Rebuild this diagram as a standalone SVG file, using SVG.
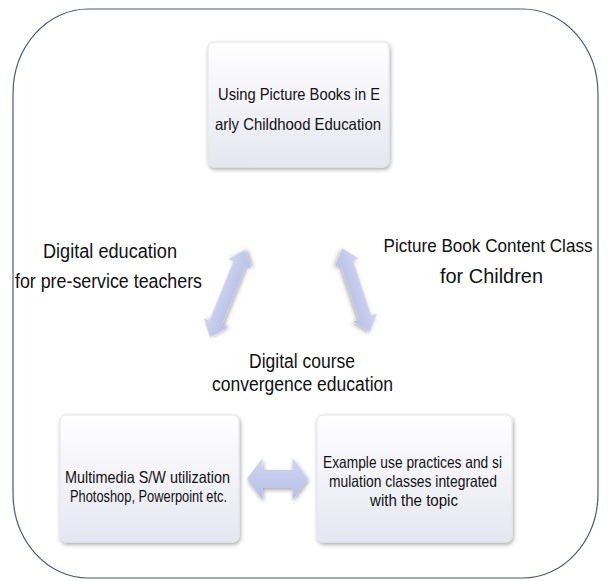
<svg xmlns="http://www.w3.org/2000/svg" width="612" height="581" viewBox="0 0 612 581">
<defs>
<linearGradient id="boxg" x1="0" y1="0" x2="0" y2="1">
<stop offset="0" stop-color="#ffffff"/>
<stop offset="1" stop-color="#e6e6f2"/>
</linearGradient>
<linearGradient id="arrg" x1="0" y1="0" x2="0" y2="1">
<stop offset="0" stop-color="#d0d6f2"/>
<stop offset="1" stop-color="#b5bee6"/>
</linearGradient>
<filter id="sh" x="-10%" y="-10%" width="125%" height="125%">
<feGaussianBlur in="SourceAlpha" stdDeviation="2"/>
<feOffset dx="1" dy="2"/>
<feComponentTransfer><feFuncA type="linear" slope="0.35"/></feComponentTransfer>
<feMerge><feMergeNode/><feMergeNode in="SourceGraphic"/></feMerge>
</filter>
</defs>
<style>
.box{fill:url(#boxg);stroke:#e4e4ee;stroke-width:1;filter:url(#sh)}
.t{font-family:"Liberation Sans",Arial,sans-serif;fill:#111;text-anchor:middle}
.bt{font-size:16.5px}
.lt{font-size:20px}
.arr{fill:url(#arrg);filter:url(#sh)}
</style>
<rect x="0" y="0" width="612" height="581" fill="#ffffff"/>
<g id="frame">
<rect x="13" y="9" width="585" height="569" rx="75" ry="85" fill="none" stroke="#4b5b7a" stroke-width="1.2"/>
</g>
<g id="node-top">
<rect class="box" x="208" y="42" width="181" height="125" rx="6"/>
<text class="t bt" x="299" y="100" textLength="162" lengthAdjust="spacingAndGlyphs">Using Picture Books in E</text>
<text class="t bt" x="298" y="130" textLength="166" lengthAdjust="spacingAndGlyphs">arly Childhood Education</text>
</g>
<g id="node-bl">
<rect class="box" x="60" y="415" width="179" height="127" rx="6"/>
<text class="t bt" x="147.5" y="483" textLength="165" lengthAdjust="spacingAndGlyphs">Multimedia S/W utilization</text>
<text class="t bt" x="148.5" y="502" textLength="157" lengthAdjust="spacingAndGlyphs">Photoshop, Powerpoint etc.</text>
</g>
<g id="node-br">
<rect class="box" x="317" y="415" width="195" height="127" rx="6"/>
<text class="t bt" x="412.5" y="468" textLength="179" lengthAdjust="spacingAndGlyphs">Example use practices and si</text>
<text class="t bt" x="413" y="487" textLength="168" lengthAdjust="spacingAndGlyphs">mulation classes integrated</text>
<text class="t bt" x="414" y="506" textLength="88" lengthAdjust="spacingAndGlyphs">with the topic</text>
</g>
<g id="labels">
<text class="t lt" x="110" y="258" textLength="134" lengthAdjust="spacingAndGlyphs">Digital education</text>
<text class="t lt" x="108.5" y="288" textLength="187" lengthAdjust="spacingAndGlyphs">for pre-service teachers</text>
<text class="t" font-size="18.5" x="488" y="252" textLength="209" lengthAdjust="spacingAndGlyphs">Picture Book Content Class</text>
<text class="t lt" x="491.5" y="283" textLength="103" lengthAdjust="spacingAndGlyphs">for Children</text>
<text class="t lt" x="302" y="368" textLength="106" lengthAdjust="spacingAndGlyphs">Digital course</text>
<text class="t lt" x="302.5" y="391" textLength="181" lengthAdjust="spacingAndGlyphs">convergence education</text>
</g>
<g id="connectors">
<g transform="translate(227.5,293.5) rotate(-68)"><path class="arr" d="M-47,0 L-32,-12.5 L-32,-6.5 L32,-6.5 L32,-12.5 L47,0 L32,12.5 L32,6.5 L-32,6.5 L-32,12.5 Z"/></g>
<g transform="translate(356,290) rotate(71.6)"><path class="arr" d="M-44,0 L-29,-12.5 L-29,-6.5 L29,-6.5 L29,-12.5 L44,0 L29,12.5 L29,6.5 L-29,6.5 L-29,12.5 Z"/></g>
<g transform="translate(277.5,479)"><path class="arr" d="M-30.5,0 L-15,-21 L-15,-9 L15,-9 L15,-21 L30.5,0 L15,21 L15,9 L-15,9 L-15,21 Z"/></g>
</g>
</svg>
